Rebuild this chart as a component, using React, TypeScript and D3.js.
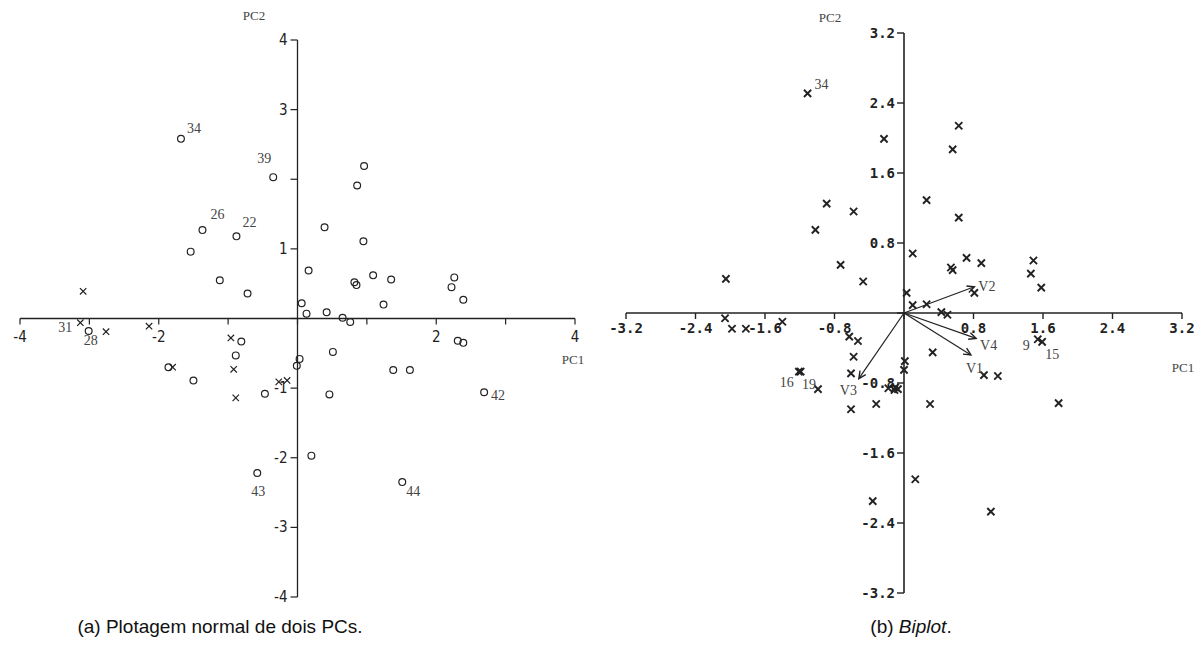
import React from 'react';
import * as d3 from 'd3';

// (a) plotagem normal - PC1 x PC2
const leftCircles: [number, number][] = [
  [-1.68, 2.58], [-0.35, 2.03], [-1.37, 1.27], [-0.88, 1.18], [-1.54, 0.96], [-1.12, 0.55], [-0.72, 0.36],
  [0.96, 2.19], [0.86, 1.91], [0.39, 1.31], [0.95, 1.11], [0.16, 0.69], [1.09, 0.62], [1.35, 0.56],
  [0.82, 0.52], [0.85, 0.48], [2.26, 0.59], [2.22, 0.45], [2.39, 0.27], [1.24, 0.2], [0.06, 0.22],
  [0.13, 0.07], [0.42, 0.09], [0.65, 0.01], [0.76, -0.05], [2.31, -0.32], [2.39, -0.35], [0.51, -0.48],
  [0.03, -0.58], [-0.01, -0.68], [1.38, -0.74], [1.62, -0.74], [0.46, -1.09], [2.69, -1.06], [0.2, -1.97],
  [1.51, -2.35], [-3.01, -0.18], [-0.81, -0.33], [-0.89, -0.53], [-1.86, -0.7], [-1.5, -0.89],
  [-0.47, -1.08], [-0.58, -2.22],
];
const leftCrosses: [number, number][] = [
  [-3.09, 0.39], [-3.13, -0.06], [-2.76, -0.19], [-2.14, -0.11], [-0.96, -0.28], [-1.8, -0.7],
  [-0.92, -0.73], [-0.89, -1.14], [-0.27, -0.91], [-0.15, -0.89],
];
const leftLabels: [string, number, number][] = [
  ['34', -1.68, 2.58], ['39', -0.35, 2.03], ['26', -1.37, 1.27], ['22', -0.88, 1.18],
  ['31', -3.13, -0.06], ['28', -3.01, -0.18], ['43', -0.58, -2.22], ['44', 1.51, -2.35], ['42', 2.69, -1.06],
];
const leftXTicks = [-4, -3, -2, -1, 0, 1, 2, 3, 4];
const leftXLabels = [-4, -2, 2, 4];
const leftYTicks = [-4, -3, -2, -1, 0, 1, 2, 3, 4];
const leftYLabels = [4, 3, 1, -1, -2, -3, -4];

// (b) biplot
const rightCrosses: [number, number][] = [
  [-1.11, 2.51], [-0.23, 1.99], [-0.89, 1.25], [-0.58, 1.16], [-1.02, 0.95], [-0.73, 0.55], [-0.47, 0.36],
  [-2.05, 0.39], [0.63, 2.14], [0.56, 1.87], [0.26, 1.29], [0.63, 1.09], [0.1, 0.68], [0.72, 0.63],
  [0.89, 0.57], [0.54, 0.52], [0.56, 0.49], [1.49, 0.6], [1.46, 0.45], [1.58, 0.29], [0.81, 0.23],
  [0.03, 0.23], [0.1, 0.09], [0.26, 0.1], [0.43, 0.01], [0.5, -0.02], [1.54, -0.3], [1.59, -0.33],
  [0.33, -0.45], [0.92, -0.71], [1.08, -0.72], [0.3, -1.04], [1.78, -1.03], [0.13, -1.9], [1.0, -2.27],
  [0.01, -0.55], [0.0, -0.65], [-0.1, -0.85], [-2.06, -0.06], [-1.98, -0.18], [-1.82, -0.18],
  [-1.4, -0.1], [-0.63, -0.27], [-0.53, -0.32], [-0.58, -0.5], [-0.61, -0.69], [-1.19, -0.67],
  [-1.21, -0.67], [-0.99, -0.87], [-0.61, -1.1], [-0.32, -1.04], [-0.18, -0.86], [-0.11, -0.88],
  [-0.07, -0.87], [-0.36, -2.15],
];
const rightLabels: [string, number, number][] = [
  ['34', -1.11, 2.51], ['16', -1.2, -0.67], ['19', -0.99, -0.87], ['9', 1.54, -0.3], ['15', 1.59, -0.33],
];
const vectorNames = ['V1', 'V2', 'V3', 'V4'];
const vectorX = [0.77, 0.81, -0.52, 0.83];
const vectorY = [-0.48, 0.3, -0.75, -0.29];
const rightTicks = [-3.2, -2.4, -1.6, -0.8, 0, 0.8, 1.6, 2.4, 3.2];
const rightXLabels = [-3.2, -2.4, -1.6, -0.8, 0.8, 1.6, 2.4, 3.2];
const rightYLabels = [3.2, 2.4, 1.6, 0.8, -0.8, -1.6, -2.4, -3.2];

// label offsets in px (drawing only)
const leftOff: Record<string, [number, number, string]> = {
  '34': [6, -6, 'start'], '39': [-2, -14, 'end'], '26': [8, -11, 'start'], '22': [6, -9, 'start'],
  '31': [-8, 9, 'end'], '28': [2, 14, 'middle'], '43': [1, 23, 'middle'], '44': [4, 14, 'start'],
  '42': [7, 8, 'start'],
};
const rightOff: Record<string, [number, number, string]> = {
  '34': [7, -4, 'start'], '16': [-6, 15, 'end'], '19': [-2, 0, 'end'], '9': [-8, 11, 'end'],
  '15': [3, 17, 'start'],
};
const vecOff: Record<string, [number, number, string]> = {
  V1: [-5, 18, 'start'], V2: [4, 4, 'start'], V3: [-19, 16, 'start'], V4: [4, 12, 'start'],
};

const ink = '#222';
const grey = '#444';
const narrow = '"Liberation Sans Narrow", "DejaVu Sans Condensed", Arial, sans-serif';
const serif = '"Liberation Serif", "DejaVu Serif", serif';
const mono = '"DejaVu Sans Mono", "Liberation Mono", monospace';

const Cross = ({ cx, cy, s, w }: { cx: number; cy: number; s: number; w: number }) => (
  <path d={`M${cx - s},${cy - s}L${cx + s},${cy + s}M${cx - s},${cy + s}L${cx + s},${cy - s}`} stroke={ink} strokeWidth={w} />
);

const fmtR = (v: number) => d3.format('.1f')(v).replace('−', '-');

export default function App() {
  const xA = d3.scaleLinear().domain([-4, 4]).range([20, 575]);
  const yA = d3.scaleLinear().domain([-4, 4]).range([597, 40]);
  const xB = d3.scaleLinear().domain([-3.2, 3.2]).range([626, 1182]);
  const yB = d3.scaleLinear().domain([-3.2, 3.2]).range([593, 33]);

  const arrowHead = (x0: number, y0: number, x1: number, y1: number) => {
    const a = Math.atan2(y1 - y0, x1 - x0);
    const L = 8, t = 0.45;
    return `M${x1 - L * Math.cos(a - t)},${y1 - L * Math.sin(a - t)}L${x1},${y1}L${x1 - L * Math.cos(a + t)},${y1 - L * Math.sin(a + t)}`;
  };

  return (
    <svg width={1200} height={645} style={{ position: 'absolute', left: 0, top: 0, background: '#fff' }}>
      {/* ---------- (a) ---------- */}
      <g>
        <line x1={xA(-4)} x2={xA(4)} y1={yA(0)} y2={yA(0)} stroke={ink} strokeWidth={1.3} />
        <line x1={xA(0)} x2={xA(0)} y1={yA(4)} y2={yA(-4)} stroke={ink} strokeWidth={1.3} />
        {leftXTicks.map(t => (
          <line key={'xt' + t} x1={xA(t)} x2={xA(t)} y1={yA(0)} y2={yA(0) + 6} stroke={ink} strokeWidth={1.2} />
        ))}
        {leftYTicks.map(t => (
          <line key={'yt' + t} x1={xA(0) - 7} x2={xA(0)} y1={yA(t)} y2={yA(t)} stroke={ink} strokeWidth={1.2} />
        ))}
        {leftXLabels.map(t => (
          <text key={'xl' + t} x={xA(t)} y={yA(0) + 23} textAnchor="middle" fontFamily={narrow} fontSize={15} fill={ink}>
            {String(t).replace('−', '-')}
          </text>
        ))}
        {leftYLabels.map(t => (
          <text key={'yl' + t} x={xA(0) - 10} y={yA(t) + 5} textAnchor="end" fontFamily={narrow} fontSize={15} fill={ink}>
            {String(t)}
          </text>
        ))}
        <text x={254} y={20} textAnchor="middle" fontFamily={serif} fontSize={13} fill={grey}>PC2</text>
        <text x={xA(4) - 2} y={yA(0) + 45} textAnchor="middle" fontFamily={serif} fontSize={13} fill={grey}>PC1</text>
        {leftCircles.map(([x, y], i) => (
          <circle key={'c' + i} cx={xA(x)} cy={yA(y)} r={3.4} fill="none" stroke={ink} strokeWidth={1.2} />
        ))}
        {leftCrosses.map(([x, y], i) => (
          <Cross key={'x' + i} cx={xA(x)} cy={yA(y)} s={3.2} w={1.2} />
        ))}
        {leftLabels.map(([lab, x, y]) => {
          const [dx, dy, anchor] = leftOff[lab];
          return (
            <text key={'ll' + lab} x={xA(x) + dx} y={yA(y) + dy} textAnchor={anchor as any} fontFamily={serif} fontSize={14} fill={grey}>
              {lab}
            </text>
          );
        })}
      </g>

      {/* ---------- (b) ---------- */}
      <g>
        <line x1={xB(-3.2)} x2={xB(3.2)} y1={yB(0)} y2={yB(0)} stroke={ink} strokeWidth={1.6} />
        <line x1={xB(0)} x2={xB(0)} y1={yB(3.2)} y2={yB(-3.2)} stroke={ink} strokeWidth={1.6} />
        {rightTicks.map(t => (
          <line key={'bxt' + t} x1={xB(t)} x2={xB(t)} y1={yB(0)} y2={yB(0) + 6} stroke={ink} strokeWidth={1.4} />
        ))}
        {rightTicks.map(t => (
          <line key={'byt' + t} x1={xB(0) - 7} x2={xB(0)} y1={yB(t)} y2={yB(t)} stroke={ink} strokeWidth={1.4} />
        ))}
        {rightXLabels.map(t => (
          <text key={'bxl' + t} x={xB(t)} y={yB(0) + 20} textAnchor="middle" fontFamily={mono} fontWeight="bold" fontSize={14} fill={ink}>
            {fmtR(t)}
          </text>
        ))}
        {rightYLabels.map(t => (
          <text key={'byl' + t} x={xB(0) - 9} y={yB(t) + 5} textAnchor="end" fontFamily={mono} fontWeight="bold" fontSize={14} fill={ink}>
            {fmtR(t)}
          </text>
        ))}
        <text x={830} y={22} textAnchor="middle" fontFamily={serif} fontSize={13} fill={grey}>PC2</text>
        <text x={1183} y={372} textAnchor="middle" fontFamily={serif} fontSize={13} fill={grey}>PC1</text>
        {rightCrosses.map(([x, y], i) => (
          <Cross key={'bx' + i} cx={xB(x)} cy={yB(y)} s={3.6} w={1.9} />
        ))}
        {vectorNames.map((n, i) => {
          const x0 = xB(0), y0 = yB(0), x1 = xB(vectorX[i]), y1 = yB(vectorY[i]);
          const [dx, dy] = vecOff[n];
          return (
            <g key={n}>
              <line x1={x0} y1={y0} x2={x1} y2={y1} stroke={ink} strokeWidth={1.2} />
              <path d={arrowHead(x0, y0, x1, y1)} fill="none" stroke={ink} strokeWidth={1.4} />
              <text x={x1 + dx} y={y1 + dy} fontFamily={serif} fontSize={14} fill={grey}>{n}</text>
            </g>
          );
        })}
        {rightLabels.map(([lab, x, y]) => {
          const [dx, dy, anchor] = rightOff[lab];
          return (
            <text key={'bl' + lab} x={xB(x) + dx} y={yB(y) + dy} textAnchor={anchor as any} fontFamily={serif} fontSize={14} fill={grey}>
              {lab}
            </text>
          );
        })}
      </g>

      {/* captions */}
      <text x={220} y={633} textAnchor="middle" fontFamily='"Liberation Sans", Arial, sans-serif' fontSize={19} fill="#111">
        (a) Plotagem normal de dois PCs.
      </text>
      <text x={911} y={633} textAnchor="middle" fontFamily='"Liberation Sans", Arial, sans-serif' fontSize={19} fill="#111">
        (b) <tspan fontStyle="italic">Biplot</tspan>.
      </text>
    </svg>
  );
}
